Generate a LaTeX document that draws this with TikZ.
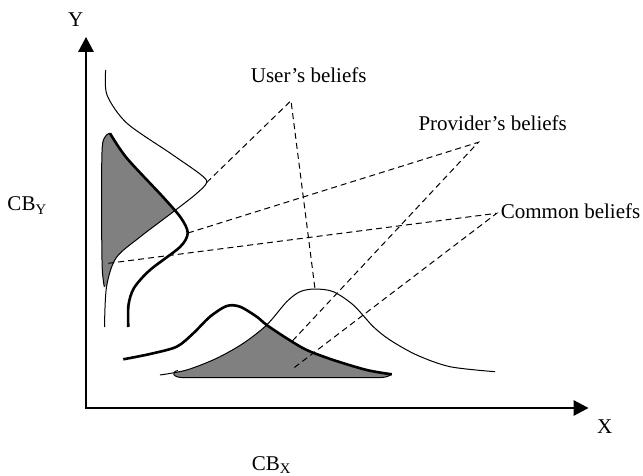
\documentclass[tikz,border=0pt]{standalone}
\usepackage{fontspec}
\setmainfont{Liberation Serif}
\usetikzlibrary{arrows.meta}
\tikzset{
  axisline/.style={line width=1.6pt, line cap=rect, -{Triangle[length=15pt,width=15.5pt]}},
  thinbelief/.style={line width=1pt},
  thickbelief/.style={line width=2.6pt},
  shared/.style={fill=black!50},
  leader/.style={line width=1pt, dash pattern=on 6pt off 4pt},
  beliefnote/.style={font=\fontsize{21}{25}\selectfont, inner sep=0pt, anchor=base west}
}

\begin{document}
\begin{tikzpicture}[x=1pt,y=-1pt]
\useasboundingbox (0,0) rectangle (643,476);
% common area on the Y side
\begin{scope}
\clip plot[smooth] coordinates {(105.7,70) (107,95) (126.7,123) (170,153) (200,174) (206.7,182.5) (196,194) (173,212) (140,237) (116,258) (106.5,287) (104.5,327)} -- (0,327) -- (0,70) -- cycle;
\fill[shared] plot[smooth] coordinates {(104.3,287) (102.3,270) (101.7,233) (101.7,167) (102.7,143) (106.5,135) (110,133.3)} -- plot[smooth] coordinates {(110,133.3) (126.7,158) (163,197) (181,218) (187.7,233)} -- cycle;
\end{scope}
% common area on the X side
\begin{scope}
\clip plot[smooth] coordinates {(160,375) (186.7,370) (216.7,358.3) (243.3,343.3) (266.7,325) (286.7,301.7) (300,291.7) (315,289) (333.3,291.7) (353.3,305) (373.3,326.7) (390,340) (416.7,355) (450,366.7) (495,371.7)} -- (495,476) -- (160,476) -- cycle;
\fill[shared] plot[smooth] coordinates {(226.7,306) (240,306.7) (256.7,316.7) (266.7,325) (286.7,338.3) (306.7,350) (333.3,360) (366.7,370) (391.7,374.3)} .. controls (386,377.5) .. (372,377.7) -- (184,377.7) .. controls (172,377.5) and (171,372) .. (178,370.5) -- cycle;
\end{scope}
\draw[thinbelief] plot[smooth] coordinates {(104.3,287) (102.3,270) (101.7,233) (101.7,167) (102.7,143) (106.5,135) (110,133.3)};
\draw[thinbelief] (391.7,374.3) .. controls (386,377.5) .. (372,377.7) -- (184,377.7) .. controls (172,377.5) and (171,372) .. (178,370.5);
\draw[thinbelief] plot[smooth] coordinates {(105.7,70) (107,95) (126.7,123) (170,153) (200,174) (206.7,182.5) (196,194) (173,212) (140,237) (116,258) (106.5,287) (104.5,327)};
\draw[thinbelief] plot[smooth] coordinates {(160,375) (186.7,370) (216.7,358.3) (243.3,343.3) (266.7,325) (286.7,301.7) (300,291.7) (315,289) (333.3,291.7) (353.3,305) (373.3,326.7) (390,340) (416.7,355) (450,366.7) (495,371.7)};
\draw[thickbelief] plot[smooth] coordinates {(110,133.3) (126.7,158) (163,197) (181,218) (187.7,233) (180,247) (150,270) (134,288) (128.5,305) (128.3,327)};
\draw[thickbelief] plot[smooth] coordinates {(123.3,359.3) (150,354) (176.7,346.7) (193.3,333.3) (210,316.7) (226.7,306) (240,306.7) (256.7,316.7) (266.7,325) (286.7,338.3) (306.7,350) (333.3,360) (366.7,370) (391.7,374.3)};

\coordinate (uservtx) at (291,100.7);
\coordinate (provvtx) at (478.3,142.3);
\coordinate (commonvtx) at (496.7,213.3);
\coordinate (userpeakv) at (206.7,182.5);
\coordinate (userpeakh) at (315,289);
\coordinate (provpeakv) at (188,233);
\coordinate (provpointh) at (291.7,341.7);
\coordinate (commonv) at (108.3,263.3);
\coordinate (commonh) at (293.3,368.3);
\draw[leader] (userpeakv) -- (uservtx) -- (userpeakh);
\draw[leader] (provpeakv) -- (provvtx) -- (provpointh);
\draw[leader] (commonv) -- (commonvtx) -- (commonh);

\coordinate (origin) at (86,408);
\coordinate (ytip) at (86,37);
\coordinate (xtip) at (588.5,408);
\draw[axisline] (origin) -- (ytip);
\draw[axisline] (origin) -- (xtip);

\node[beliefnote] (ylabel) at (68,26.7) {Y};
\node[beliefnote] (xlabel) at (597,433) {X};
\node[beliefnote] (cby) at (7.3,211) {CB\textsubscript{Y}};
\node[beliefnote] (cbx) at (251.7,470) {CB\textsubscript{X}};
\node[beliefnote] (userlabel) at (250.7,82.7) {User's beliefs};
\node[beliefnote] (provlabel) at (418.3,130.7) {Provider's beliefs};
\node[beliefnote] (commonlabel) at (500.7,218.3) {Common beliefs};
\end{tikzpicture}
\end{document}
